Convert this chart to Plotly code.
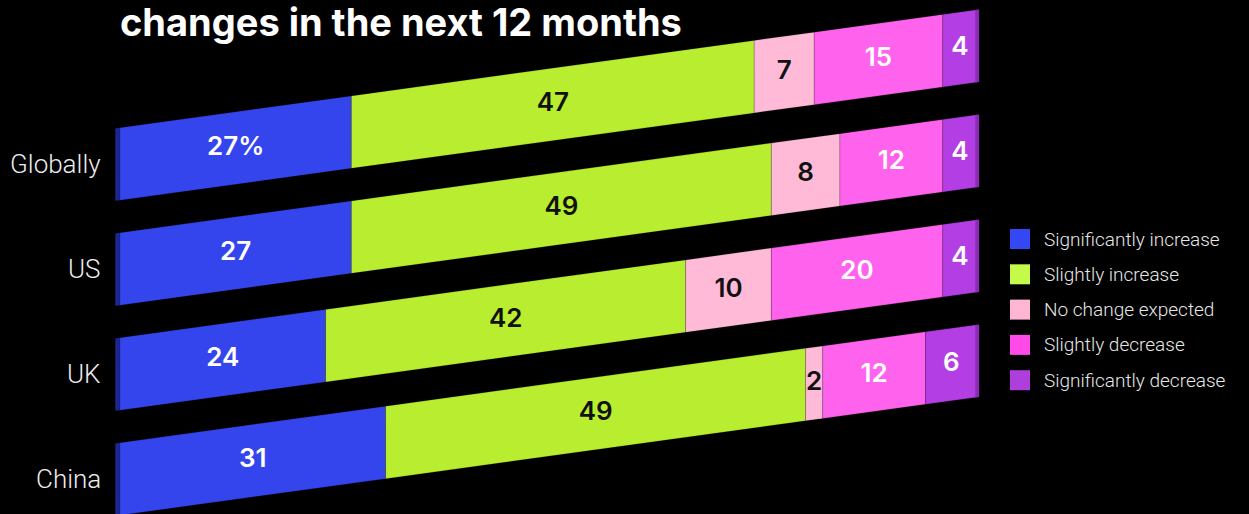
import plotly.graph_objects as go

# ---- data -------------------------------------------------------------
categories = ["Globally", "US", "UK", "China"]
series_names = [
    "Significantly increase",
    "Slightly increase",
    "No change expected",
    "Slightly decrease",
    "Significantly decrease",
]
sig_increase = [27, 27, 24, 31]
slight_increase = [47, 49, 42, 49]
no_change = [7, 8, 10, 2]
slight_decrease = [15, 12, 20, 12]
sig_decrease = [4, 4, 4, 6]
series_values = [sig_increase, slight_increase, no_change, slight_decrease, sig_decrease]

title_text = "changes in the next 12 months"

# ---- styling ----------------------------------------------------------
fill_colors = ["#3545EE", "#B9EE30", "#FFBAD8", "#FF62EC", "#B33EE3"]
legend_colors = ["#3447F5", "#C4FA4A", "#FFB6D3", "#FF4AE8", "#AE3FDD"]
text_colors = ["white", "#111111", "#111111", "white", "white"]
side_blue = "#1C2690"
side_purple = "#8A2CB4"

W, H = 1249, 514
PX_PER_PCT = 8.57          # horizontal scale of the bars
X_LEFT_PX = 120            # where 0 % sits
ROW0_PX = 164              # vertical centre of first row at 0 %
ROW_PX = 105               # distance between rows
SKEW = 1.124 / 100         # rows of rise per percentage point
HALF = 0.345               # half bar thickness in rows

x_range = [-X_LEFT_PX / PX_PER_PCT, (W - X_LEFT_PX) / PX_PER_PCT]
y_range = [(H - ROW0_PX) / ROW_PX, -ROW0_PX / ROW_PX]


def centre(row, pct):
    return row - SKEW * pct


def quad(row, x0, x1):
    xs = [x0, x1, x1, x0, x0]
    ys = [
        centre(row, x0) - HALF,
        centre(row, x1) - HALF,
        centre(row, x1) + HALF,
        centre(row, x0) + HALF,
        centre(row, x0) - HALF,
    ]
    return xs, ys


fig = go.Figure()
annotations = []

for r, cat in enumerate(categories):
    # narrow darker side face on the left end
    xs, ys = quad(r, -0.55, 0)
    fig.add_trace(go.Scatter(x=xs, y=ys, fill="toself", mode="lines",
                             line=dict(width=0), fillcolor=side_blue,
                             hoverinfo="skip", showlegend=False))
    start = 0
    for s, vals in enumerate(series_values):
        v = vals[r]
        xs, ys = quad(r, start, start + v)
        fig.add_trace(go.Scatter(
            x=xs, y=ys, fill="toself", mode="lines",
            line=dict(width=0.6, color="rgba(0,0,0,0.25)"),
            fillcolor=fill_colors[s], name=series_names[s],
            hoverinfo="skip", showlegend=False))
        mid = start + v / 2
        label = f"{v}%" if (r == 0 and s == 0) else f"{v}"
        fig.add_trace(go.Scatter(
            x=[mid], y=[centre(r, mid)], mode="text", text=[label],
            textfont=dict(family="Inter", size=26, color=text_colors[s], weight=600),
            hoverinfo="skip", showlegend=False))
        start += v
    # darker edge on the right end
    xs, ys = quad(r, start - 0.2, start + 0.25)
    fig.add_trace(go.Scatter(x=xs, y=ys, fill="toself", mode="lines",
                             line=dict(width=0), fillcolor=side_purple,
                             hoverinfo="skip", showlegend=False))

    annotations.append(dict(
        x=-2.0, y=centre(r, 0), xref="x", yref="y", text=cat, showarrow=False,
        xanchor="right", yanchor="middle",
        font=dict(family="Roboto", size=26, color="#EDEDED", weight=300)))

# ---- legend (drawn on an overlay axis measured in pixels) --------------
LEG_X, LEG_Y0, LEG_DY = 1020, 239, 35.3
for s, name in enumerate(series_names):
    fig.add_trace(go.Scatter(
        x=[LEG_X], y=[LEG_Y0 + s * LEG_DY], mode="markers",
        marker=dict(symbol="square", size=20, color=legend_colors[s], line=dict(width=0)),
        xaxis="x2", yaxis="y2", hoverinfo="skip", showlegend=False))
    annotations.append(dict(
        x=LEG_X + 22, y=LEG_Y0 + s * LEG_DY, xref="x2", yref="y2", text=name,
        showarrow=False, xanchor="left", yanchor="middle",
        font=dict(family="Roboto", size=19, color="#E6E6E6", weight=300)))

annotations.append(dict(
    x=X_LEFT_PX - 2, y=22, xref="x2", yref="y2", text=title_text, showarrow=False,
    xanchor="left", yanchor="middle",
    font=dict(family="Inter", size=38, color="white", weight=700)))

fig.update_layout(
    width=W, height=H,
    margin=dict(l=0, r=0, t=0, b=0),
    paper_bgcolor="black", plot_bgcolor="rgba(0,0,0,0)",
    xaxis=dict(range=x_range, visible=False, domain=[0, 1], fixedrange=True),
    yaxis=dict(range=y_range, visible=False, domain=[0, 1], fixedrange=True),
    xaxis2=dict(range=[0, W], visible=False, overlaying="x", anchor="y2", fixedrange=True),
    yaxis2=dict(range=[H, 0], visible=False, overlaying="y", anchor="x2", fixedrange=True),
    annotations=annotations,
    showlegend=False,
)

fig.write_html("out.html", config={"displayModeBar": False})
